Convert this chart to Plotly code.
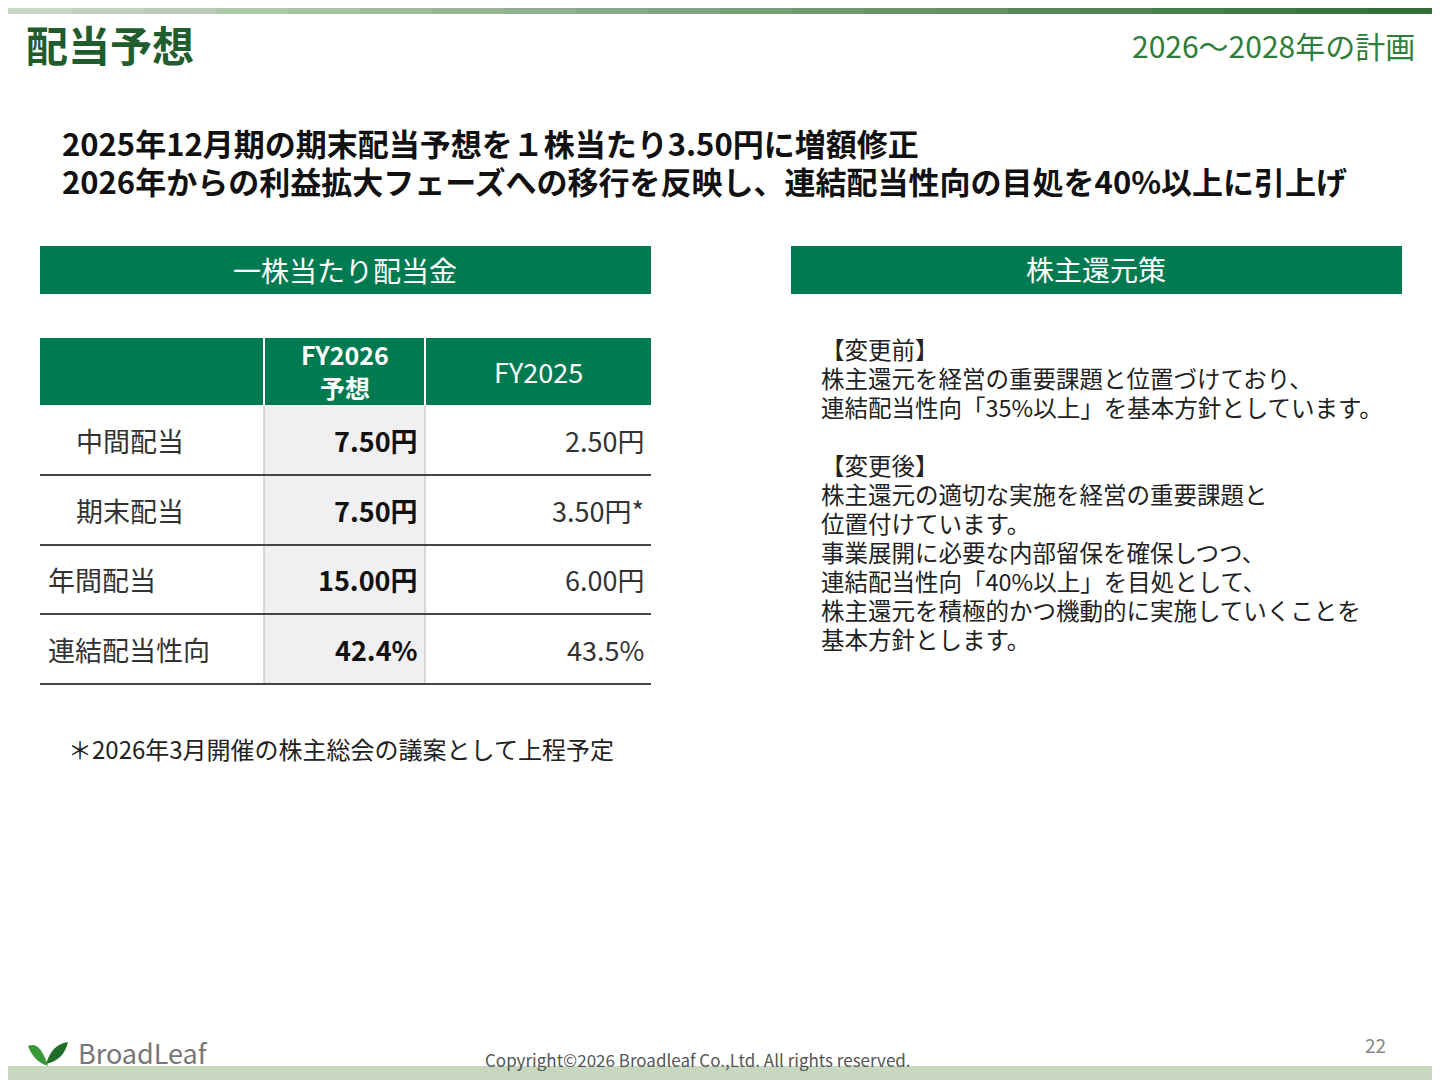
import plotly.graph_objects as go

row_labels = ["中間配当", "期末配当", "年間配当", "連結配当性向"]
row_indent = [True, True, False, False]
fy2026 = ["7.50円", "7.50円", "15.00円", "42.4%"]
fy2025 = ["2.50円", "3.50円*", "6.00円", "43.5%"]
col_headers = ["FY2026<br>予想", "FY2025"]
right_text = ["【変更前】", "株主還元を経営の重要課題と位置づけており、", "連結配当性向「35%以上」を基本方針としています。", "",
              "【変更後】", "株主還元の適切な実施を経営の重要課題と", "位置付けています。", "事業展開に必要な内部留保を確保しつつ、",
              "連結配当性向「40%以上」を目処として、", "株主還元を積極的かつ機動的に実施していくことを", "基本方針とします。"]

F = "Noto Sans CJK JP, Noto Sans, sans-serif"
GREEN = "#007a50"
fig = go.Figure()
shapes = []
ann = []

def rect(x0, y0, x1, y1, color):
    shapes.append(dict(type="rect", xref="x", yref="y", x0=x0, y0=y0, x1=x1, y1=y1,
                       fillcolor=color, line=dict(width=0), layer="below"))

def line(x0, y0, x1, y1, color, w):
    shapes.append(dict(type="line", xref="x", yref="y", x0=x0, y0=y0, x1=x1, y1=y1, line=dict(color=color, width=w)))

def text(x, y, s, size, color="#222", bold=False, xanchor="left"):
    ann.append(dict(x=x, y=y, xref="x", yref="y", text=f"<b>{s}</b>" if bold else s, showarrow=False,
                    xanchor=xanchor, yanchor="middle", font=dict(family=F, size=size, color=color)))

for i in range(20):
    t = i / 19
    c = f"rgb({int(200 - 150 * t)},{int(215 - 105 * t)},{int(195 - 140 * t)})"
    rect(i * 72, 0, (i + 1) * 72 + 1, 14, c)
    rect(i * 72, 1066, (i + 1) * 72 + 1, 1090, "#c8d8c0")

text(24, 43, "配当予想", 42, "#1f5e2c", True)
text(1417, 45, "2026～2028年の計画", 30, "#2f7d3a", xanchor="right")
text(60, 142, "2025年12月期の期末配当予想を１株当たり3.50円に増額修正", 31, "#111", True)
text(60, 180, "2026年からの利益拡大フェーズへの移行を反映し、連結配当性向の目処を40%以上に引上げ", 31, "#111", True)

rect(40, 246, 651, 294, GREEN)
text(345, 270, "一株当たり配当金", 28, "white", xanchor="center")
rect(791, 246, 1402, 294, GREEN)
text(1096, 269, "株主還元策", 28, "white", xanchor="center")

rect(40, 338, 651, 405, GREEN)
line(264, 338, 264, 405, "white", 2)
line(425, 338, 425, 405, "white", 2)
ann.append(dict(x=345, y=370, xref="x", yref="y", text="<b>" + col_headers[0] + "</b>", showarrow=False,
                xanchor="center", yanchor="middle", font=dict(family=F, size=25, color="white")))
text(538, 371, col_headers[1], 27, "white", xanchor="center")
rows_y = [405, 475, 545, 614, 684]
rect(264, 405, 425, 684, "#f0f0f2")
line(264, 405, 264, 684, "#cccccc", 1.5)
line(425, 405, 425, 684, "#cccccc", 1.5)
for i, lab in enumerate(row_labels):
    yc = (rows_y[i] + rows_y[i + 1]) / 2
    text(74 if row_indent[i] else 46, yc, lab, 27, "#333")
    text(420, yc, fy2026[i], 27, "#111", True, "right")
    text(646, yc, fy2025[i], 27, "#333", xanchor="right")
    line(40, rows_y[i + 1], 651, rows_y[i + 1], "#444", 2)

text(66, 748, "＊2026年3月開催の株主総会の議案として上程予定", 24, "#222")

for i, s in enumerate(right_text):
    if s:
        text(819, 349 + i * 29, s, 23.5, "#222")

text(698, 1059, "Copyright©2026 Broadleaf Co.,Ltd. All rights reserved.", 17, "#555", xanchor="center")
text(1375, 1044, "22", 19, "#888", xanchor="center")
shapes.append(dict(type="path", xref="x", yref="y", path="M 28 1046 Q 40 1040 48 1066 Q 34 1062 28 1046 Z",
                   fillcolor="#3a9a3a", line=dict(width=0)))
shapes.append(dict(type="path", xref="x", yref="y", path="M 46 1064 Q 52 1044 68 1042 Q 64 1060 46 1064 Z",
                   fillcolor="#1f6e2a", line=dict(width=0)))
text(76, 1052, "BroadLeaf", 27, "#777")

fig.update_layout(width=1440, height=1080, margin=dict(l=0, r=0, t=0, b=0),
                  paper_bgcolor="white", plot_bgcolor="white", shapes=shapes, annotations=ann,
                  xaxis=dict(range=[8, 1448], visible=False, fixedrange=True),
                  yaxis=dict(range=[1088, 8], visible=False, fixedrange=True), showlegend=False)
fig.write_html("out.html")
